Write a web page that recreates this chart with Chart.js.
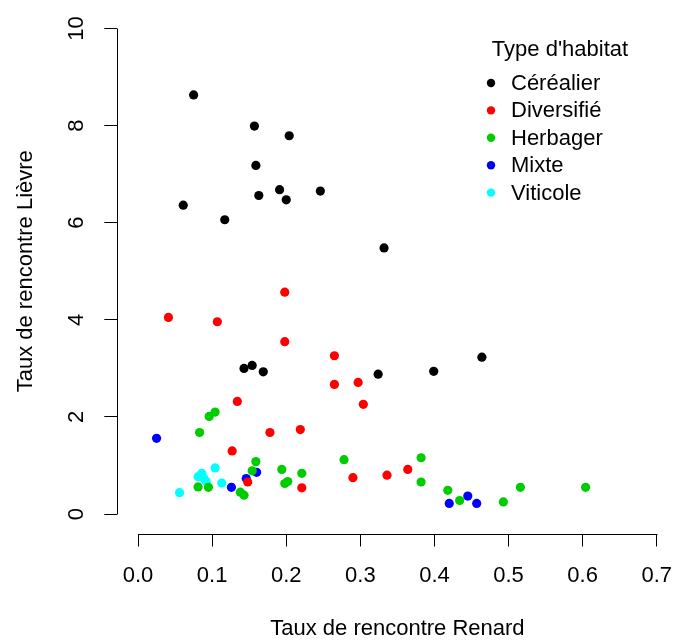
<!DOCTYPE html>
<html>
<head>
<meta charset="utf-8">
<script src="https://cdn.jsdelivr.net/npm/chart.js@4.4.1/dist/chart.umd.min.js"></script>
<style>
  html, body { margin: 0; padding: 0; background: #ffffff; }
  #c { display: block; }
</style>
</head>
<body>
<canvas id="c" width="685" height="640"></canvas>
<script>
// ---- Data ----
const categories = ["Céréalier", "Diversifié", "Herbager", "Mixte", "Viticole"];
const categoryColors = ["#000000", "#FF0000", "#00CD00", "#0000FF", "#00FFFF"];

const cerealierX = [0.075, 0.157, 0.204, 0.159, 0.191, 0.163, 0.200, 0.246, 0.061, 0.117, 0.332, 0.143, 0.154, 0.169, 0.324, 0.399, 0.464];
const cerealierY = [8.63, 7.99, 7.79, 7.18, 6.68, 6.56, 6.47, 6.65, 6.36, 6.06, 5.48, 3.00, 3.06, 2.93, 2.88, 2.94, 3.23];

const diversifieX = [0.198, 0.041, 0.107, 0.198, 0.265, 0.265, 0.297, 0.304, 0.134, 0.178, 0.219, 0.127, 0.148, 0.221, 0.290, 0.336, 0.364];
const diversifieY = [4.57, 4.05, 3.96, 3.55, 3.26, 2.67, 2.71, 2.26, 2.32, 1.68, 1.74, 1.30, 0.66, 0.54, 0.75, 0.80, 0.92];

const herbagerX = [0.096, 0.104, 0.083, 0.159, 0.154, 0.194, 0.221, 0.198, 0.202, 0.278, 0.081, 0.095, 0.138, 0.143, 0.382, 0.382, 0.418, 0.434, 0.493, 0.516, 0.604];
const herbagerY = [2.01, 2.10, 1.68, 1.08, 0.89, 0.92, 0.84, 0.63, 0.67, 1.12, 0.56, 0.55, 0.45, 0.39, 1.16, 0.66, 0.49, 0.28, 0.25, 0.55, 0.55];

const mixteX = [0.025, 0.160, 0.146, 0.126, 0.420, 0.445, 0.457];
const mixteY = [1.56, 0.86, 0.73, 0.55, 0.22, 0.37, 0.22];

const viticoleX = [0.104, 0.086, 0.081, 0.092, 0.089, 0.113, 0.056];
const viticoleY = [0.95, 0.84, 0.77, 0.67, 0.73, 0.64, 0.44];

const xTicks = [0, 0.1, 0.2, 0.3, 0.4, 0.5, 0.6, 0.7];
const yTicks = [0, 2, 4, 6, 8, 10];
const xTickLabels = ["0.0", "0.1", "0.2", "0.3", "0.4", "0.5", "0.6", "0.7"];
const yTickLabels = ["0", "2", "4", "6", "8", "10"];

const xTitle = "Taux de rencontre Renard";
const yTitle = "Taux de rencontre Lièvre";
const legendTitle = "Type d'habitat";

// ---- Build chart ----
const seriesX = [cerealierX, diversifieX, herbagerX, mixteX, viticoleX];
const seriesY = [cerealierY, diversifieY, herbagerY, mixteY, viticoleY];

const FONT = "'Liberation Sans', Arial, sans-serif";
const FS = 22;

const datasets = categories.map((name, i) => ({
  label: name,
  data: seriesX[i].map((x, k) => ({ x: x, y: seriesY[i][k] })),
  backgroundColor: categoryColors[i],
  borderColor: categoryColors[i],
  pointRadius: 4.6,
  pointBorderWidth: 0,
  pointHoverRadius: 4.6,
  order: i
}));

const axisLinePlugin = {
  id: 'rAxisLines',
  afterDraw(chart) {
    const ctx = chart.ctx;
    const xs = chart.scales.x, ys = chart.scales.y;
    const ca = chart.chartArea;
    ctx.save();
    ctx.strokeStyle = '#000000';
    ctx.lineWidth = 1;
    ctx.beginPath();
    const yb = Math.round(ca.bottom) + 0.5;
    ctx.moveTo(Math.round(xs.getPixelForValue(xTicks[0])) + 0.5, yb);
    ctx.lineTo(Math.round(xs.getPixelForValue(xTicks[xTicks.length - 1])) + 0.5, yb);
    const xl = Math.round(ca.left) + 0.5;
    ctx.moveTo(xl, Math.round(ys.getPixelForValue(yTicks[0])) + 0.5);
    ctx.lineTo(xl, Math.round(ys.getPixelForValue(yTicks[yTicks.length - 1])) + 0.5);
    ctx.stroke();
    ctx.restore();
  }
};

const legendPlugin = {
  id: 'rLegend',
  afterDraw(chart) {
    const ctx = chart.ctx;
    ctx.save();
    ctx.fillStyle = '#000000';
    ctx.font = FS + 'px ' + FONT;
    ctx.textBaseline = 'middle';
    ctx.textAlign = 'center';
    ctx.fillText(legendTitle, 560, 50);
    ctx.textAlign = 'left';
    chart.data.datasets.forEach((ds, i) => {
      const y = 83 + i * 27.4;
      ctx.beginPath();
      ctx.fillStyle = ds.backgroundColor;
      ctx.arc(491, y, 4.2, 0, Math.PI * 2);
      ctx.fill();
      ctx.fillStyle = '#000000';
      ctx.fillText(ds.label, 511, y + 1);
    });
    ctx.restore();
  }
};

new Chart(document.getElementById('c'), {
  type: 'scatter',
  data: { datasets: datasets },
  options: {
    responsive: false,
    animation: false,
    devicePixelRatio: 1,
    layout: { padding: { top: 9, right: 7.5, left: 0, bottom: 0 } },
    plugins: {
      legend: { display: false },
      tooltip: { enabled: false }
    },
    scales: {
      x: {
        type: 'linear',
        min: -0.028,
        max: 0.728,
        afterBuildTicks: s => { s.ticks = xTicks.map(v => ({ value: v })); },
        afterFit: s => { s.height = 106.5; s.paddingLeft = 0; s.paddingRight = 0; },
        border: { display: false },
        grid: { display: true, drawOnChartArea: false, drawTicks: true, tickLength: 13, color: '#000000', lineWidth: 1 },
        ticks: {
          color: '#000000',
          font: { family: FONT, size: FS },
          padding: 16,
          maxRotation: 0,
          minRotation: 0,
          callback: (v) => { const k = xTicks.findIndex(t => Math.abs(t - v) < 1e-9); return k >= 0 ? xTickLabels[k] : ''; }
        },
        title: {
          display: true,
          text: xTitle,
          color: '#000000',
          font: { family: FONT, size: FS, lineHeight: 1 },
          padding: { top: 0, bottom: 0 }
        }
      },
      y: {
        type: 'linear',
        min: -0.4,
        max: 10.4,
        afterBuildTicks: s => { s.ticks = yTicks.map(v => ({ value: v })); },
        afterFit: s => { s.width = 117.3; s.paddingTop = 0; s.paddingBottom = 0; },
        border: { display: false },
        grid: { display: true, drawOnChartArea: false, drawTicks: true, tickLength: 13, color: '#000000', lineWidth: 1 },
        ticks: {
          color: '#000000',
          font: { family: FONT, size: FS },
          padding: 15,
          minRotation: 90,
          maxRotation: 90,
          crossAlign: 'center',
          callback: (v) => { const k = yTicks.findIndex(t => Math.abs(t - v) < 1e-9); return k >= 0 ? yTickLabels[k] : ''; }
        },
        title: {
          display: true,
          text: yTitle,
          color: '#000000',
          font: { family: FONT, size: FS, lineHeight: 1 },
          padding: { top: 15, bottom: 0 }
        }
      }
    }
  },
  plugins: [axisLinePlugin, legendPlugin]
});
</script>
</body>
</html>
